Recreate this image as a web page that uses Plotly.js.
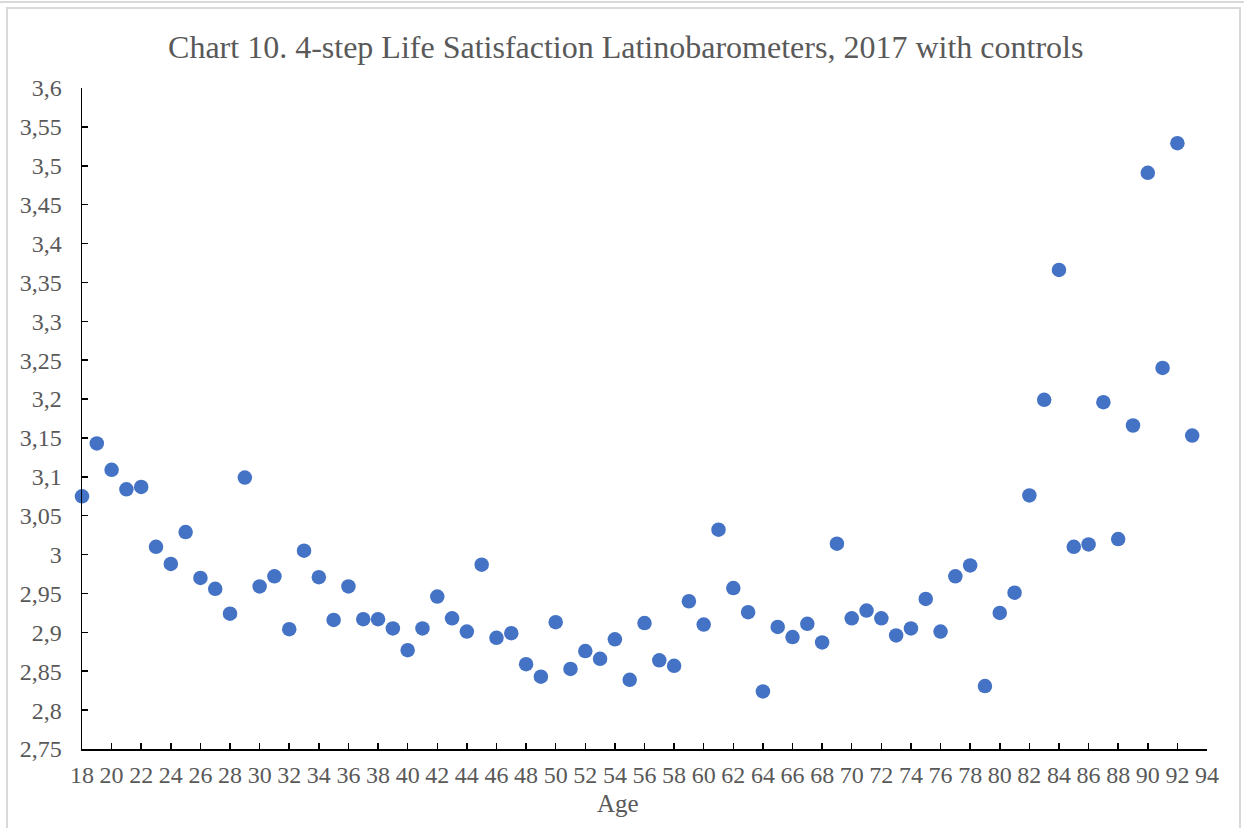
<!DOCTYPE html>
<html>
<head>
<meta charset="utf-8">
<script src="https://cdn.plot.ly/plotly-3.0.1.min.js"></script>
<style>
  html, body { margin: 0; padding: 0; background: #fff; }
  #chart { position: absolute; left: 0; top: 0; width: 1244px; height: 828px; }
  #topline { position: absolute; left: 0; top: 1px; width: 1244px; height: 2px; background: #d9d9d9; }
  #frame { position: absolute; left: 6px; top: 7px; width: 1235px; height: 830px; border-left: 2px solid #d9d9d9; border-right: 2px solid #d9d9d9; border-top: 2px solid #d9d9d9; box-sizing: border-box; pointer-events: none; }
</style>
</head>
<body>
<div id="chart"></div>
<div id="topline"></div>
<div id="frame"></div>
<script>
const ages = [18,19,20,21,22,23,24,25,26,27,28,29,30,31,32,33,34,35,36,37,38,39,40,41,42,43,44,45,46,47,48,49,50,51,52,53,54,55,56,57,58,59,60,61,62,63,64,65,66,67,68,69,70,71,72,73,74,75,76,77,78,79,80,81,82,83,84,85,86,87,88,89,90,91,92,93];
const satisfaction = [3.075,3.143,3.109,3.084,3.087,3.010,2.988,3.029,2.970,2.956,2.924,3.099,2.959,2.972,2.904,3.005,2.971,2.916,2.959,2.917,2.917,2.905,2.877,2.905,2.946,2.918,2.901,2.987,2.893,2.899,2.859,2.843,2.913,2.853,2.876,2.866,2.891,2.839,2.912,2.864,2.857,2.940,2.910,3.032,2.957,2.926,2.824,2.907,2.894,2.911,2.887,3.014,2.918,2.928,2.918,2.896,2.905,2.943,2.901,2.972,2.986,2.831,2.925,2.951,3.076,3.199,3.366,3.010,3.013,3.196,3.020,3.166,3.491,3.240,3.529,3.153];
const chartTitle = "Chart 10. 4-step Life Satisfaction Latinobarometers, 2017 with controls";
const xTitle = "Age";

const fontFam = "Liberation Serif, Times New Roman, serif";
const grey = "#595959";

const trace = {
  x: ages, y: satisfaction, type: "scatter", mode: "markers",
  marker: { color: "#4472C4", size: 14.5, line: { width: 0 } },
  hoverinfo: "none", cliponaxis: false
};

const layout = {
  width: 1244, height: 828,
  margin: { l: 82, r: 37, t: 88, b: 79, pad: 0 },
  paper_bgcolor: "rgba(0,0,0,0)", plot_bgcolor: "rgba(0,0,0,0)",
  separators: ",.",
  showlegend: false,
  title: { text: chartTitle, font: { family: fontFam, size: 32, color: grey }, x: 0.503, xref: "container", xanchor: "center", y: 0.944, yref: "container", yanchor: "middle" },
  xaxis: {
    range: [18, 94], tick0: 18, dtick: 2, showgrid: false, zeroline: false,
    showline: true, linecolor: "#000", linewidth: 1.5,
    ticks: "inside", ticklen: 6, tickwidth: 1.5, tickcolor: "#000",
    tickfont: { family: fontFam, size: 24, color: grey }, ticklabelstandoff: 4
  },
  yaxis: {
    range: [2.75, 3.6], tick0: 2.75, dtick: 0.05, showgrid: false, zeroline: false,
    showline: true, linecolor: "#000", linewidth: 1.5,
    ticks: "inside", ticklen: 6, tickwidth: 1.5, tickcolor: "#000",
    tickfont: { family: fontFam, size: 24, color: grey }, ticklabelstandoff: 14
  },
  annotations: [{
    text: xTitle, xref: "paper", yref: "paper", x: 0.476, y: -0.083,
    xanchor: "center", yanchor: "middle", showarrow: false,
    font: { family: fontFam, size: 25, color: grey }
  }]
};
Plotly.newPlot("chart", [trace], layout, { displayModeBar: false, staticPlot: true });
</script>
</body>
</html>
